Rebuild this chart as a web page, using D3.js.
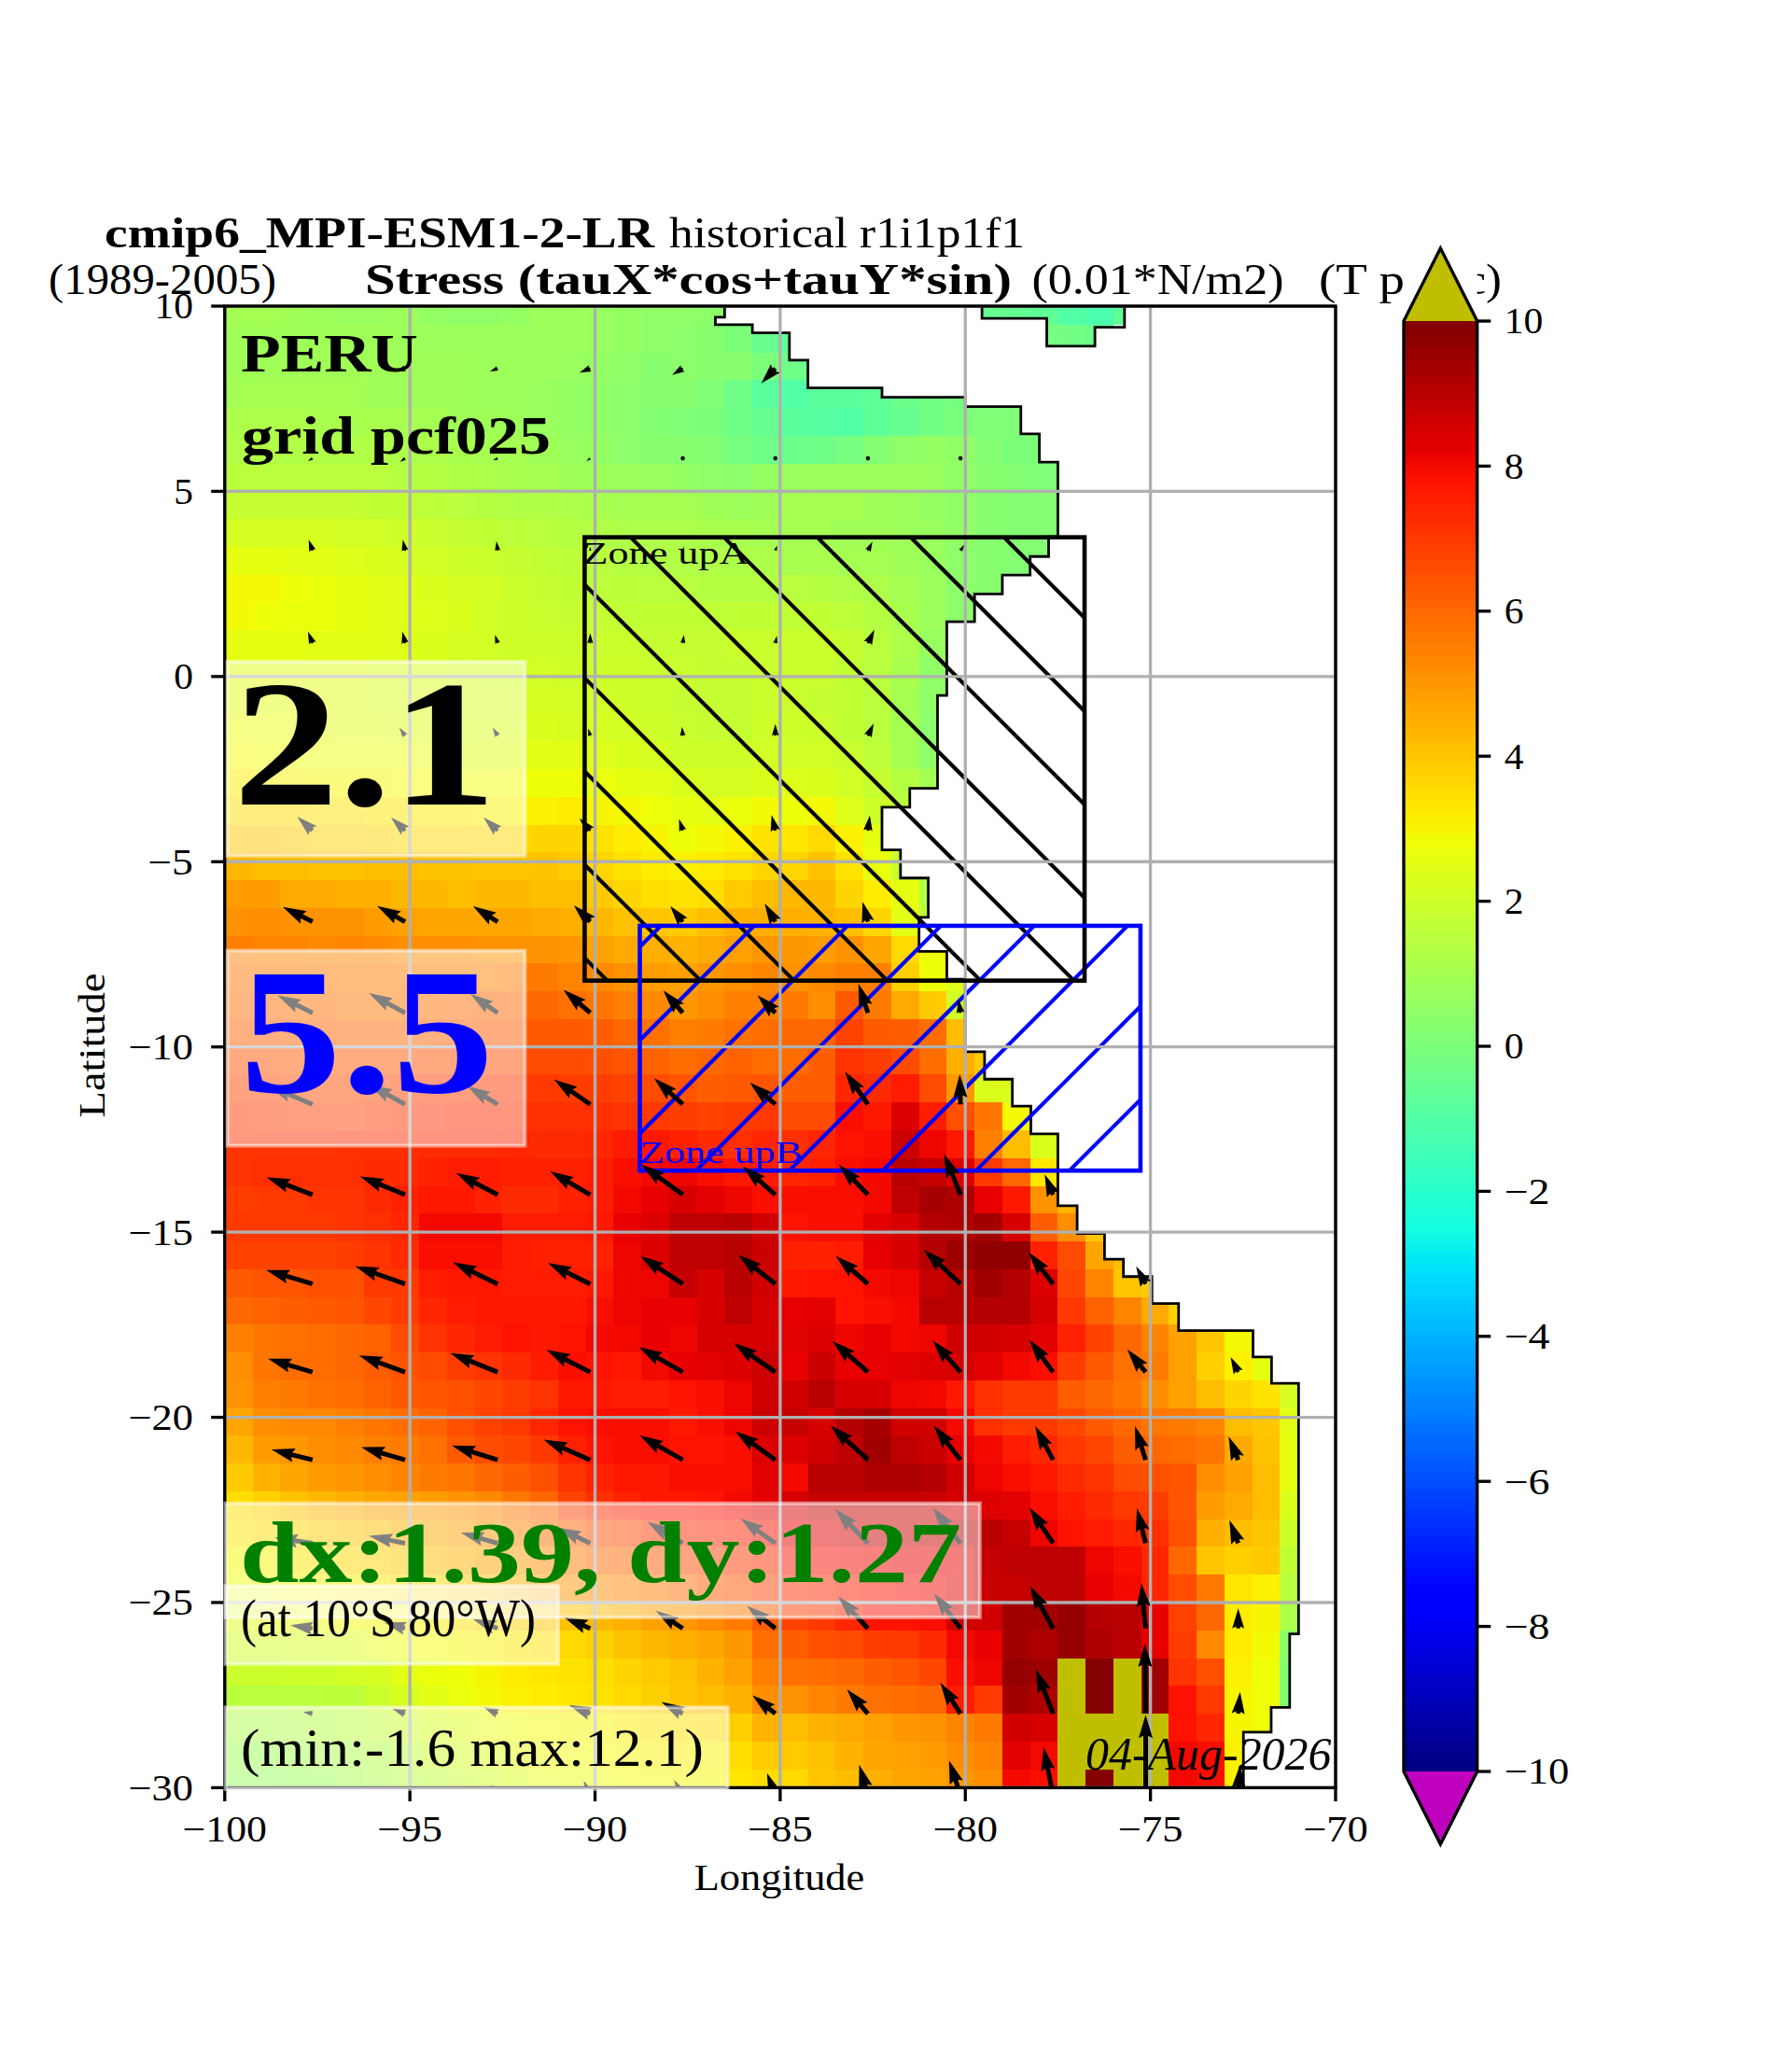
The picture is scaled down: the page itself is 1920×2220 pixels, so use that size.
<!DOCTYPE html>
<html>
<head>
<meta charset="utf-8">
<title>PERU stress</title>
<script src="https://cdn.jsdelivr.net/npm/d3@7"></script>
<style>
  body { margin: 0; background: #fff; }
  svg { display: block; }
  text { font-family: "Liberation Serif", serif; fill: #000; }
</style>
</head>
<body>
<div id="chart"></div>
<script>
// Alongshore wind stress values on a 0.75 degree mesh.
// One row per latitude band, first band on top, null = no data.
const _ = null;
const stressRows = [
  [1.0,1.0,0.9,0.8,0.7,0.7,0.8,0.6,0.5,0.5,0.6,0.8,0.8,0.7,0.6,0.5,0.5,0.4,0.2,-.2,_,_,_,_,_,_,_,-0.5,-0.6,-0.7,-1.0,-1.2,-0.7],
  [0.9,0.9,0.9,0.9,0.9,0.9,0.8,0.8,0.8,0.8,0.8,0.8,0.8,0.7,0.6,0.5,0.4,0.3,0.0,-0.5,-0.7,_,_,_,_,_,_,_,_,-0.1,-0.2,-0.4],
  [0.9,0.9,0.9,0.9,0.9,0.9,0.9,0.9,0.9,0.8,0.8,0.8,0.7,0.6,0.5,0.3,0.4,0.3,0.3,0.0,-0.3,-0.7,-0.5],
  [1.0,1.0,1.0,1.0,1.0,0.9,0.9,0.9,0.9,0.8,0.8,0.7,0.6,0.5,0.4,0.3,0.3,0.1,-0.3,-0.8,-1.0,-0.8,-0.8,-0.7,-0.4,-0.2,-0.1,0,0.1,0.1],
  [1.2,1.2,1.2,1.1,1.1,1.1,1.1,1.0,0.9,0.9,0.8,0.7,0.6,0.5,0.4,0.2,0.1,0.0,-0.3,-0.5,-0.8,-0.9,-1.0,-0.7,-0.5,-0.2,0.0,0.1,0.1,0.0,0.0],
  [1.3,1.3,1.3,1.3,1.3,1.3,1.2,1.2,1.1,1.0,1.0,0.9,0.7,0.6,0.4,0.3,0.3,0.2,-0.1,-0.3,-0.4,-0.3,-0.1,0.2,0.5,0.6,0.5,0.2,0.0,0.0,0.0],
  [1.5,1.5,1.5,1.5,1.5,1.5,1.4,1.4,1.3,1.2,1.1,1.0,0.9,0.8,0.8,0.7,0.6,0.5,0.4,0.6,0.7,0.8,0.8,0.8,0.8,0.7,0.5,0.3,0.2,0.1,0.1],
  [1.8,1.8,1.8,1.8,1.8,1.7,1.7,1.6,1.5,1.4,1.3,1.3,1.2,1.1,1.0,1.0,1.0,0.9,0.8,0.9,1.0,1.0,1.0,0.9,0.8,0.6,0.5,0.3,0.2,0.2,0.2],
  [2.2,2.2,2.2,2.2,2.1,2.1,2.0,1.9,1.8,1.7,1.6,1.5,1.4,1.3,1.2,1.2,1.2,1.1,1.1,1.0,1.0,1.0,0.9,0.9,0.8,0.7,0.5,0.3,0.2,0.2,0.2],
  [2.6,2.6,2.5,2.5,2.4,2.3,2.2,2.1,2.0,1.9,1.8,1.7,1.6,1.5,1.4,1.3,1.3,1.3,1.2,1.2,1.1,1.1,1.0,1.0,0.9,0.7,0.4,0.3,0.2,0.2],
  [2.9,2.9,2.8,2.7,2.6,2.5,2.4,2.3,2.2,2.1,1.9,1.8,1.7,1.6,1.6,1.5,1.5,1.4,1.4,1.4,1.5,1.4,1.3,1.2,1.0,0.8,0.4,0.3],
  [2.9,2.8,2.7,2.7,2.6,2.5,2.4,2.4,2.3,2.1,2.0,1.9,1.8,1.8,1.7,1.7,1.7,1.7,1.7,1.7,1.7,1.7,1.6,1.4,1.1,0.8,0.4],
  [2.6,2.6,2.6,2.5,2.5,2.5,2.4,2.3,2.2,2.1,2.0,2.0,1.9,1.9,1.9,1.8,1.8,1.8,1.9,1.9,1.9,1.9,1.8,1.5,1.2,0.7],
  [2.5,2.5,2.5,2.5,2.5,2.4,2.3,2.3,2.2,2.1,2.1,2.1,2.0,2.0,2.0,1.9,1.9,1.8,1.8,1.9,1.9,1.9,1.7,1.5,1.1,0.5],
  [2.5,2.5,2.5,2.5,2.5,2.4,2.4,2.3,2.2,2.2,2.2,2.2,2.1,2.1,2.0,1.9,1.8,1.8,1.8,1.9,1.9,1.8,1.7,1.5,1.0,0.5],
  [2.7,2.7,2.6,2.5,2.5,2.5,2.4,2.4,2.3,2.3,2.3,2.3,2.2,2.2,2.1,2.0,1.9,1.8,1.8,2.0,2.0,1.9,1.7,1.5,1.0,0.4],
  [2.9,2.8,2.8,2.7,2.7,2.7,2.6,2.6,2.5,2.5,2.5,2.5,2.5,2.4,2.3,2.2,2.0,2.0,2.0,2.1,2.1,2.1,1.9,1.6,1.0,0.5],
  [3.2,3.1,3.1,3.0,3.0,3.0,2.9,2.9,2.8,2.8,2.8,2.8,2.8,2.7,2.6,2.5,2.3,2.2,2.2,2.3,2.4,2.3,2.1,1.8,1.4,1.0],
  [3.5,3.5,3.5,3.4,3.4,3.3,3.3,3.2,3.2,3.1,3.1,3.1,3.2,3.0,2.9,2.8,2.6,2.5,2.7,2.9,2.8,2.9,2.4,2.0,1.5],
  [4.0,4.0,3.9,3.8,3.8,3.7,3.6,3.6,3.6,3.6,3.6,3.7,3.7,3.4,3.2,3.0,2.8,2.9,3.1,3.4,3.3,3.6,3.1,2.6,2.6],
  [4.3,4.2,4.2,4.1,4.1,4.2,4.2,4.1,4.1,4.0,4.0,4.1,3.9,3.7,3.4,3.2,3.1,3.2,3.4,3.7,3.7,4.1,3.4,2.7,1.9,1.3,1.3],
  [4.9,4.9,4.6,4.6,4.5,4.5,4.3,4.3,4.2,4.3,4.3,4.2,4.2,3.9,3.7,3.5,3.4,3.5,3.9,4.2,4.3,4.3,3.7,3.2,2.6,1.4,1.4],
  [5.1,5.2,5.1,5.1,5.1,4.9,4.8,4.7,4.7,4.7,4.7,4.6,4.5,4.3,4.1,4.0,3.9,4.2,4.5,4.5,4.5,4.4,4.2,3.7,2.5,1.7],
  [5.5,5.4,5.4,5.3,5.4,5.3,5.2,5.2,5.2,5.1,5.1,5.1,5.0,4.8,4.6,4.5,4.4,4.6,4.8,5.0,5.0,4.9,5.1,4.7,3.6,2.8,2.6],
  [5.7,5.7,5.7,5.6,5.6,5.6,5.6,5.5,5.5,5.5,5.6,5.6,5.4,5.3,5.1,4.9,4.8,5.0,5.2,5.4,5.1,5.3,5.5,5.5,3.8,2.8,2.4],
  [5.9,5.9,5.8,5.8,5.7,5.7,5.7,5.8,5.9,6.0,6.0,6.0,5.8,5.7,5.5,5.3,5.0,5.2,5.5,5.5,5.6,5.2,6.3,5.6,4.6,3.9,2.1],
  [6.1,6.2,6.1,6.1,6.0,6.0,6.0,6.1,6.2,6.3,6.3,6.3,6.3,6.2,6.0,5.8,5.5,5.6,5.8,5.9,6.0,6.0,6.8,6.3,6.2,5.9,4.2],
  [6.4,6.4,6.3,6.3,6.3,6.3,6.4,6.5,6.5,6.6,6.6,6.6,6.6,6.5,6.4,6.1,5.9,6.0,6.1,5.9,5.9,6.2,7.1,6.9,6.6,5.9,4.5,3.9],
  [6.7,6.7,6.6,6.6,6.6,6.7,6.8,6.9,6.9,7.0,7.0,7.0,6.9,6.9,6.8,6.6,6.4,6.2,6.3,6.4,6.2,6.2,7.4,7.3,7.6,6.6,5.0,2.3,2.3],
  [7.0,6.9,6.8,6.8,6.8,6.9,7.0,7.1,7.2,7.2,7.2,7.2,7.2,7.2,7.1,7.0,6.9,6.8,6.9,7.0,6.6,6.6,7.9,7.7,8.4,7.6,6.5,5.7,2.9,2.7],
  [7.1,7.1,7.1,7.1,7.2,7.2,7.2,7.3,7.3,7.3,7.4,7.3,7.3,7.4,7.6,7.7,7.5,7.3,7.2,7.4,7.2,7.4,7.8,7.9,8.7,8.1,7.7,5.5,4.2,2.3],
  [7.1,7.2,7.2,7.2,7.2,7.3,7.3,7.5,7.6,7.6,7.5,7.5,7.5,7.6,7.9,8.0,8.1,7.9,7.7,7.6,7.4,7.5,7.9,8.0,9.0,8.8,8.4,7.0,6.0,3.3],
  [6.9,7.0,7.0,7.1,7.1,7.3,7.5,7.7,7.7,7.5,7.3,7.3,7.5,7.6,8.0,8.2,8.5,8.3,8.1,7.9,7.9,7.9,7.9,8.0,8.9,9.3,9.2,8.2,7.7,5.1,4.4],
  [7.0,7.0,7.0,7.0,7.1,7.2,7.4,8.0,8.0,8.0,7.6,7.6,7.6,7.7,8.2,8.4,8.9,8.9,9.0,8.6,7.8,7.9,7.9,8.3,8.5,9.1,9.2,9.4,8.5,6.2,5.2,4.0],
  [6.8,6.8,6.8,6.8,6.9,7.1,7.3,7.9,7.9,7.9,7.6,7.5,7.5,7.5,8.1,8.4,8.9,8.9,9.0,8.7,7.5,7.5,7.6,8.2,8.5,9.1,9.5,9.7,9.7,7.5,6.6,4.7,4.2],
  [6.3,6.4,6.4,6.5,6.5,7.0,7.0,7.6,7.7,7.7,7.6,7.6,7.6,7.7,8.1,8.1,8.8,8.5,9.0,8.6,7.7,7.8,7.8,8.0,8.1,8.8,9.0,9.4,9.1,8.4,6.7,5.4,4.0,3.9],
  [6.0,6.1,6.2,6.3,6.4,6.7,6.9,7.4,7.6,7.7,7.7,7.7,7.7,7.9,8.1,8.2,8.2,8.5,8.9,8.5,8.2,8.3,7.8,7.9,8.0,9.0,9.0,9.1,9.1,8.5,7.0,6.1,5.4,4.6,3.8],
  [5.5,5.7,5.8,5.9,6.0,6.1,6.6,7.1,7.4,7.6,7.8,7.7,7.8,8.0,8.0,8.2,8.1,8.5,8.5,8.5,8.3,8.4,8.1,8.2,8.0,8.1,8.6,8.6,8.5,8.3,7.5,6.8,6.0,5.4,4.8,4.0,2.9],
  [5.2,5.7,5.9,5.9,6.0,6.2,6.4,6.6,6.9,7.1,7.3,7.6,7.9,7.8,7.7,8.0,8.2,8.3,8.4,8.7,8.2,8.7,8.2,8.2,8.3,8.4,8.5,8.3,8.0,7.9,6.9,6.3,5.8,5.6,4.8,3.8,3.1,2.6],
  [5.1,5.5,5.6,5.8,5.9,6.1,6.3,6.4,6.5,6.7,6.9,7.1,7.7,7.7,7.6,7.6,7.8,7.9,8.1,8.6,8.6,9.0,8.5,8.5,8.1,8.0,7.7,7.2,7.0,7.0,6.2,6.0,5.7,5.2,4.8,4.2,3.7,3.4,2.2],
  [4.7,5.2,5.3,5.3,5.5,5.7,5.9,6.1,6.5,6.8,7.0,7.4,7.8,7.9,7.9,7.9,7.7,7.9,8.1,8.7,8.8,8.5,9.1,9.3,8.6,8.6,8.0,7.2,7.0,7.0,6.7,6.3,6.0,5.7,5.6,5.4,4.2,4.0,2.5],
  [4.3,4.9,5.0,5.2,5.3,5.5,5.6,5.8,6.3,6.6,6.7,7.0,7.5,7.8,7.9,7.9,7.8,7.8,7.9,8.4,8.4,8.6,8.9,9.4,8.9,8.7,8.2,8.0,7.6,7.4,7.0,6.7,6.2,6.0,5.9,5.7,4.6,4.1,2.6],
  [3.9,4.4,4.7,4.9,5.0,5.2,5.4,5.6,5.7,6.0,6.2,6.5,7.1,7.5,7.7,7.7,7.9,7.9,7.9,8.3,8.0,9.0,9.0,9.2,9.2,9.1,8.6,8.1,7.9,7.7,7.3,7.1,6.6,6.5,6.4,5.2,4.8,4.2,2.6],
  [3.5,3.8,4.1,4.3,4.5,4.7,4.8,4.9,5.1,5.3,5.7,6.0,6.8,7.2,7.5,7.7,7.7,7.8,8.0,8.3,8.5,8.8,8.8,8.8,8.8,8.7,8.5,8.4,8.3,7.9,7.6,7.3,7.0,6.9,6.4,4.9,4.6,4.2,2.3],
  [3.3,3.5,3.7,3.9,4.0,4.2,4.4,4.6,4.8,5.1,5.4,5.8,6.1,6.5,6.7,7.0,7.3,7.4,7.5,7.8,8.2,8.3,8.5,8.7,8.7,8.8,8.9,9.0,8.8,8.1,7.8,7.6,7.4,7.2,6.5,4.5,4.2,4.0,2.0],
  [3.0,3.1,3.3,3.4,3.6,3.8,4.0,4.2,4.4,4.7,4.9,5.2,5.6,5.9,6.0,6.3,6.6,6.8,7.0,7.2,7.8,7.9,8.0,8.1,8.2,8.2,8.2,8.8,8.9,8.9,8.9,8.1,7.9,7.4,6.0,4.0,3.8,3.9,1.7],
  [2.7,2.8,3.0,3.1,3.2,3.3,3.5,3.7,3.9,4.1,4.4,4.7,5.0,5.2,5.4,5.6,5.9,6.3,6.5,6.8,7.2,7.4,7.6,7.8,7.9,8.0,8.3,8.7,8.8,8.9,8.9,8.2,8.0,7.4,6.6,5.6,3.3,3.1,1.5],
  [2.5,2.6,2.7,2.8,2.9,3.0,3.1,3.2,3.4,3.6,3.8,4.0,4.1,4.3,4.5,4.8,5.0,5.3,5.6,6.2,6.8,7.0,7.4,7.8,7.8,7.9,8.6,8.6,9.4,9.4,9.6,9.1,9.0,8.2,6.8,6.0,3.2,3.0,1.2],
  [2.1,2.1,2.2,2.3,2.4,2.6,2.8,2.9,3.0,3.1,3.3,3.4,3.6,3.8,4.1,4.3,4.5,4.7,5.0,5.9,6.2,6.5,6.6,6.9,7.0,7.3,8.0,8.2,9.4,9.2,9.6,9.2,9.0,8.2,6.9,5.3,3.2,2.9,0.4],
  [1.9,1.9,2.0,2.0,2.1,2.2,2.5,2.7,2.8,3.0,3.2,3.3,3.4,3.5,3.7,3.9,4.1,4.4,4.8,5.5,5.8,5.9,6.0,6.2,6.4,6.7,7.9,8.1,9.6,9.5,11,9.9,11,9.4,7.1,6.5,3.1,2.8,0.2],
  [1.5,1.5,1.5,1.6,1.6,1.9,2.2,2.5,2.7,2.9,3.1,3.2,3.3,3.4,3.6,3.8,4.0,4.2,4.4,5.2,5.1,5.4,5.6,5.8,5.9,6.0,7.6,7.0,9.4,9.2,11,9.9,11,9.4,7.8,7.0,3.0,2.8,0.2],
  [1.2,1.2,1.3,1.4,1.6,1.7,1.9,2.2,2.4,2.6,2.8,2.9,3.0,3.0,3.2,3.3,3.4,3.5,3.8,4.4,4.2,4.4,4.6,4.8,5.0,5.1,5.4,5.6,8.6,8.5,11,11,11,11,7.8,7.4,3.0,2.8],
  [0.9,0.9,1.0,1.1,1.2,1.4,1.6,1.9,2.1,2.3,2.5,2.7,2.8,2.9,3.0,3.1,3.1,3.1,3.5,3.9,3.9,4.1,4.4,4.7,4.8,4.9,5.2,5.4,8.3,8.0,11,11,11,11,8.0,7.9,3.1],
  [0.7,0.7,0.8,0.9,1.1,1.3,1.5,1.7,1.9,2.1,2.4,2.6,2.7,2.8,2.9,2.9,3.0,3.0,3.3,3.5,3.6,4.0,4.2,4.5,4.7,4.8,5.0,5.2,8.0,7.9,11,9.9,11,11,8.0,7.9,3.1]
];

// Coast outline going south, then the small patch in the Caribbean corner
const coastLon = [-86.5,-86.5,-86.75,-86.75,-85.75,-85.75,-84.75,-84.75,-84.25,-84.25,-82.25,-82.25,-80,-80,-78.5,-78.5,-78,-78,-77.5,-77.5,-77.75,-77.75,-78.25,-78.25,-79,-79,-79.75,-79.75,-80.5,-80.5,-80.75,-80.75,-81.5,-81.5,-82.25,-82.25,-81.75,-81.75,-81,-81,-81.25,-81.25,-80.5,-80.5,-80,-80,-79.48,-79.48,-78.73,-78.73,-78.23,-78.23,-77.5,-77.5,-76.98,-76.98,-76.24,-76.24,-75.73,-75.73,-74.96,-74.96,-74.24,-74.24,-72.23,-72.23,-71.73,-71.73,-71,-71,-71.24,-71.24,-71.74,-71.74,-72.49,-72.49];
const coastLat = [10,9.7,9.7,9.5,9.5,9.28,9.28,8.54,8.54,7.79,7.79,7.54,7.54,7.29,7.29,6.55,6.55,5.79,5.79,3.77,3.77,3.24,3.24,2.74,2.74,2.23,2.23,1.48,1.48,-0.51,-0.51,-3.02,-3.02,-3.53,-3.53,-4.68,-4.68,-5.44,-5.44,-6.5,-6.5,-7.42,-7.42,-8.17,-8.17,-10.13,-10.13,-10.87,-10.87,-11.6,-11.6,-12.35,-12.35,-14.29,-14.29,-15.04,-15.04,-15.73,-15.73,-16.2,-16.2,-16.93,-16.93,-17.66,-17.66,-18.37,-18.37,-19.08,-19.08,-25.85,-25.85,-27.83,-27.83,-28.5,-28.5,-30];
const patchLon = [-79.55,-75.7,-75.7,-76.5,-76.5,-77.8,-77.8,-79.55,-79.55];
const patchLat = [10,10,9.43,9.43,8.92,8.92,9.67,9.67,10];

// Stress arrows: tail grid and the arrow components
const quiverLon = [-97.63,-95.13,-92.63,-90.13,-87.63,-85.13,-82.63,-80.13,-77.63,-75.13,-72.63];
const quiverLat = [8.32,5.89,3.4,0.9,-1.6,-4.16,-6.62,-9.08,-11.55,-13.99,-16.4,-18.78,-21.15,-23.4,-25.7,-28,-30.2];
const quiverU = [
  [-25,-25,-20,-28,-28,-37],
  [-12,-13,-12,-10,0,0,0,0],
  [-10,-6,-3,0,3,5,12,10],
  [-12,-7,-7,0,3,4,17],
  [-15,-15,-13,-5,-2,0,15],
  [-40,-37,-37,-28,-10,-10,5],
  [-78,-73,-65,-43,-33,-28,-14],
  [-92,-95,-72,-70,-51,-47,-25,-5],
  [-115,-95,-80,-95,-75,-67,-60,-2],
  [-120,-118,-109,-105,-108,-85,-76,-43,-22],
  [-122,-131,-117,-111,-111,-97,-84,-96,-64,-25],
  [-117,-121,-124,-115,-115,-109,-93,-73,-62,-48,-20],
  [-108,-115,-120,-122,-113,-105,-98,-70,-47,-28,-25],
  [-100,-95,-97,-85,-93,-92,-86,-73,-62,-23,-23],
  [-58,-55,-65,-68,-71,-75,-78,-70,-60,-11,0],
  [-25,-33,-37,-55,-56,-60,-55,-53,-45,-2,5],
  [-10,-18,-17,-17,-23,-22,-23,-30,-25,0,5]
];
const quiverV = [
  [-3,-10,-9,-13,-20,-45],
  [-8,-10,-6,-8,0,0,0,0],
  [33,33,28,12,12,15,27,17],
  [35,35,25,30,25,22,40],
  [25,25,25,22,27,35,37],
  [42,40,40,37,35,47,45],
  [44,47,47,49,47,55,60],
  [52,59,57,69,67,53,87,40],
  [55,60,55,75,78,65,98,90],
  [52,55,65,70,90,85,90,122,61],
  [42,53,65,63,84,87,84,103,95,53],
  [40,50,57,67,75,87,93,95,97,68,45],
  [31,38,43,61,73,86,103,103,101,101,70],
  [17,22,32,47,64,75,102,107,107,105,69],
  [10,18,28,33,53,68,96,106,127,135,60],
  [5,15,20,25,35,55,73,93,133,210,65],
  [28,28,31,43,46,66,91,104,144,241,91]
];

// Zones
const zoneA = { lon: [-90.28, -76.78], lat: [-8.21, 3.76], name: "Zone upA" };
const zoneB = { lon: [-88.79, -75.27], lat: [-13.34, -6.73], name: "Zone upB" };

// Ticks
const lonTicks = [-100, -95, -90, -85, -80, -75, -70];
const latTicks = [-30, -25, -20, -15, -10, -5, 0, 5, 10];
const barTicks = [-10, -8, -6, -4, -2, 0, 2, 4, 6, 8, 10];

// jet colormap anchors
const jetR = [[0, 0.35, 0.66, 0.89, 1], [0, 0, 1, 1, 0.5]];
const jetG = [[0, 0.125, 0.375, 0.64, 0.91, 1], [0, 0, 1, 1, 0, 0]];
const jetB = [[0, 0.11, 0.34, 0.65, 1], [0.5, 1, 1, 0, 0]];

const width = 1920, height = 2220;
const plot = { left: 240.8, right: 1431, top: 328, bottom: 1915.4 };
const bar = { left: 1504, right: 1582.7, top: 344, bottom: 1898, tipTop: 266, tipBottom: 1976 };
const spine = 3.33, tickLen = 14.6;

const x = d3.scaleLinear().domain([-100, -70]).range([plot.left, plot.right]);
const y = d3.scaleLinear().domain([-30, 10]).range([plot.bottom, plot.top]);
const barY = d3.scaleLinear().domain([-10, 10]).range([bar.bottom, bar.top]);

const chanR = d3.scaleLinear().domain(jetR[0]).range(jetR[1]);
const chanG = d3.scaleLinear().domain(jetG[0]).range(jetG[1]);
const chanB = d3.scaleLinear().domain(jetB[0]).range(jetB[1]);
const norm = d3.scaleLinear().domain([-10, 10]).range([0, 1]);

function color(v) {
  if (v > 10) return "#bfbf00";
  if (v < -10) return "#bf00bf";
  const t = norm(v);
  return d3.rgb(chanR(t) * 255, chanG(t) * 255, chanB(t) * 255).formatHex();
}

const svg = d3.select("#chart").append("svg").attr("width", width).attr("height", height);

// real minus, sized to what the tick labels measure
const fmtTick = (d) => (d < 0 ? "\u2212" + Math.abs(d) : String(d));
const tickWidth = (d) => (d < 0 ? 28 : 0) + String(Math.abs(d)).length * 20.8;

function label(parent, str, px, py, size, w, opt = {}) {
  const t = parent.append("text")
    .attr("x", px).attr("y", py)
    .attr("font-size", size)
    .attr("text-anchor", opt.anchor || "start")
    .text(str);
  if (w) t.attr("textLength", w).attr("lengthAdjust", "spacingAndGlyphs");
  if (opt.bold) t.attr("font-weight", "bold");
  if (opt.italic) t.attr("font-style", "italic");
  if (opt.color) t.style("fill", opt.color);
  return t;
}

const defs = svg.append("defs");
defs.append("clipPath").attr("id", "axesClip").append("rect")
  .attr("x", plot.left).attr("y", plot.top)
  .attr("width", plot.right - plot.left).attr("height", plot.bottom - plot.top);

const line = d3.line().x((d) => x(d[0])).y((d) => y(d[1]));
const coast = coastLon.map((d, i) => [d, coastLat[i]]);
const patch = patchLon.map((d, i) => [d, patchLat[i]]);
const ocean = [[-100, 10]].concat(coast, [[-72.49, -30], [-100, -30], [-100, 10]]);

defs.append("clipPath").attr("id", "oceanClip").selectAll("path")
  .data([ocean, patch]).enter().append("path").attr("d", line);

// title, under the colorbar axes which hides part of the last bit
label(svg, "cmip6_MPI-ESM1-2-LR", 112, 265, 47, 589, { bold: true });
label(svg, "historical r1i1p1f1", 717, 265, 47, 381);
label(svg, "(1989-2005)", 52, 315, 47, 244);
label(svg, "Stress (tauX*cos+tauY*sin)", 391, 315, 47, 693, { bold: true });
label(svg, "(0.01*N/m2)", 1105.5, 315, 47, 270);
label(svg, "(T p", 1413, 315, 47, 92);
label(svg, "ac)", 1609, 315, 47, 62, { anchor: "end" });

// mesh
const cellStep = 0.75, firstEdge = 10.25;
const cells = [];
stressRows.forEach((row, j) => {
  row.forEach((v, i) => {
    if (v !== null) cells.push({ i, j, v });
  });
});
svg.append("g").attr("clip-path", "url(#axesClip)")
  .append("g").attr("clip-path", "url(#oceanClip)")
  .selectAll("rect").data(cells).enter().append("rect")
  .attr("x", (d) => x(-100 + d.i * cellStep))
  .attr("y", (d) => y(firstEdge - d.j * cellStep))
  .attr("width", x(cellStep) - x(0) + 0.5)
  .attr("height", y(0) - y(cellStep) + 0.5)
  .attr("shape-rendering", "crispEdges")
  .attr("fill", (d) => color(d.v));

// coast contour
const gClip = svg.append("g").attr("clip-path", "url(#axesClip)");
gClip.append("path").attr("d", line(coast)).attr("fill", "none").attr("stroke", "#000").attr("stroke-width", 2.8);
gClip.append("path").attr("d", line(patch)).attr("fill", "none").attr("stroke", "#000").attr("stroke-width", 2.8);

// hatching, 100 px period like the original tile
function hatch(zone, col, id, sign) {
  const x0 = x(zone.lon[0]), x1 = x(zone.lon[1]), y0 = y(zone.lat[1]), y1 = y(zone.lat[0]);
  defs.append("clipPath").attr("id", id).append("rect")
    .attr("x", x0).attr("y", y0).attr("width", x1 - x0).attr("height", y1 - y0);
  const g = svg.append("g").attr("clip-path", `url(#${id})`);
  // sign -1: "\" lines y = x + k, sign 1: "/" lines y = k - x
  d3.range(-2000, 5000, 100).forEach((k) => {
    g.append("line")
      .attr("x1", x0).attr("x2", x1)
      .attr("y1", sign < 0 ? x0 + k : k - x0)
      .attr("y2", sign < 0 ? x1 + k : k - x1)
      .attr("stroke", col).attr("stroke-width", 4.1);
  });
}
hatch(zoneA, "#000", "zoneAClip", -1);
hatch(zoneB, "#0000ff", "zoneBClip", 1);

// grid
const grid = svg.append("g").attr("stroke", "#b0b0b0").attr("stroke-width", spine);
lonTicks.forEach((d) => grid.append("line").attr("x1", x(d)).attr("x2", x(d)).attr("y1", plot.top).attr("y2", plot.bottom));
latTicks.forEach((d) => grid.append("line").attr("y1", y(d)).attr("y2", y(d)).attr("x1", plot.left).attr("x2", plot.right));

// zone outlines and names
[[zoneA, "#000"], [zoneB, "#0000ff"]].forEach(([z, col]) => {
  svg.append("rect")
    .attr("x", x(z.lon[0])).attr("y", y(z.lat[1]))
    .attr("width", x(z.lon[1]) - x(z.lon[0])).attr("height", y(z.lat[0]) - y(z.lat[1]))
    .attr("fill", "none").attr("stroke", col).attr("stroke-width", 4.6);
});

// quiver with matplotlib arrow proportions
const shaft = 5, headLen = 5 * shaft, headAxis = 4.5 * shaft, headW = 3 * shaft;
const unitX = 1 / 2.45, unitY = 1 / 2.8;
const arrows = [];
quiverU.forEach((row, j) => {
  row.forEach((u, i) => {
    arrows.push({ x0: x(quiverLon[i]), y0: y(quiverLat[j]), dx: u * unitX, dy: -quiverV[j][i] * unitY });
  });
});
const gArrows = svg.append("g").attr("clip-path", "url(#axesClip)");
arrows.forEach((a) => {
  const len = Math.hypot(a.dx, a.dy);
  if (len < 1) {
    gArrows.append("circle").attr("cx", a.x0).attr("cy", a.y0).attr("r", shaft / 2.2).attr("fill", "#000");
    return;
  }
  const s = Math.min(1, len / headLen);
  const sw = shaft * s / 2, hl = headLen * s, ha = headAxis * s, hw = headW * s / 2;
  const pts = [[0, sw], [len - ha, sw], [len - hl, hw], [len, 0], [len - hl, -hw], [len - ha, -sw], [0, -sw]];
  const ang = Math.atan2(a.dy, a.dx) * 180 / Math.PI;
  gArrows.append("polygon")
    .attr("points", pts.map((p) => p.join(",")).join(" "))
    .attr("transform", `translate(${a.x0},${a.y0}) rotate(${ang})`)
    .attr("fill", "#000");
});

label(svg, zoneA.name, 624.5, 603.6, 33, 178);
label(svg, zoneB.name, 685, 1246.4, 33, 175, { color: "#0000ff" });

// spines and ticks
svg.append("rect")
  .attr("x", plot.left).attr("y", plot.top)
  .attr("width", plot.right - plot.left).attr("height", plot.bottom - plot.top)
  .attr("fill", "none").attr("stroke", "#000").attr("stroke-width", spine);

const xAxisG = svg.append("g");
lonTicks.forEach((d) => {
  xAxisG.append("line").attr("x1", x(d)).attr("x2", x(d)).attr("y1", plot.bottom).attr("y2", plot.bottom + tickLen)
    .attr("stroke", "#000").attr("stroke-width", spine);
  label(xAxisG, fmtTick(d), x(d), 1973, 40, tickWidth(d), { anchor: "middle" });
});
const yAxisG = svg.append("g");
latTicks.forEach((d) => {
  yAxisG.append("line").attr("x1", plot.left - tickLen).attr("x2", plot.left).attr("y1", y(d)).attr("y2", y(d))
    .attr("stroke", "#000").attr("stroke-width", spine);
  label(yAxisG, fmtTick(d), 207, y(d) + 13.4, 40, tickWidth(d), { anchor: "end" });
});
label(svg, "Longitude", 835, 2025, 40, 182.5, { anchor: "middle" });
label(svg, "Latitude", 0, 0, 40, 155, { anchor: "middle" })
  .attr("transform", "translate(112,1120) rotate(-90)");

// text boxes go over everything
function box(x0, x1, y0, y1) {
  svg.append("rect").attr("x", x0).attr("y", y0).attr("width", x1 - x0).attr("height", y1 - y0)
    .attr("fill", "#fff").attr("fill-opacity", 0.5)
    .attr("stroke", "#fff").attr("stroke-opacity", 0.5).attr("stroke-width", 4);
}
box(243.7, 562.4, 709, 916.8);
box(243.7, 562.4, 1018.6, 1227.5);
box(241.6, 1049.8, 1610.7, 1732.9);
box(241.6, 598, 1699.3, 1782.9);
box(241.6, 779.6, 1829.3, 1917);

label(svg, "PERU", 258, 398, 56, 190, { bold: true });
label(svg, "grid pcf025", 259, 485.7, 56, 331, { bold: true });
label(svg, "2.1", 250, 862, 192, 282, { bold: true });
label(svg, "5.5", 257, 1170, 192, 272, { bold: true, color: "#0000ff" });
label(svg, "dx:1.39, dy:1.27", 257, 1694.6, 94, 773, { bold: true, color: "#008000" });
label(svg, "(at 10\u00b0S 80\u00b0W)", 258, 1752.9, 56, 316);
label(svg, "(min:-1.6 max:12.1)", 258, 1892, 58, 496);
label(svg, "04-Aug-2026", 1163, 1896.4, 50, 263.5, { italic: true });

// colorbar: white axes first, then the levels and the two end triangles
const barMid = (bar.left + bar.right) / 2;
svg.append("rect").attr("x", bar.left).attr("y", bar.tipTop)
  .attr("width", bar.right - bar.left).attr("height", bar.tipBottom - bar.tipTop).attr("fill", "#fff");

const levels = d3.range(256);
const levelScale = d3.scaleLinear().domain([0, 256]).range([-10, 10]);
svg.append("g").selectAll("rect").data(levels).enter().append("rect")
  .attr("x", bar.left).attr("width", bar.right - bar.left)
  .attr("y", (d) => barY(levelScale(d + 1)))
  .attr("height", (d) => barY(levelScale(d)) - barY(levelScale(d + 1)) + 0.6)
  .attr("shape-rendering", "crispEdges")
  .attr("fill", (d) => color(levelScale(d + 0.5)));

svg.append("polygon").attr("fill", color(11))
  .attr("points", `${bar.left},${bar.top} ${barMid},${bar.tipTop} ${bar.right},${bar.top}`);
svg.append("polygon").attr("fill", color(-11))
  .attr("points", `${bar.left},${bar.bottom} ${barMid},${bar.tipBottom} ${bar.right},${bar.bottom}`);
svg.append("polygon").attr("fill", "none").attr("stroke", "#000").attr("stroke-width", spine)
  .attr("points", `${bar.left},${bar.top} ${barMid},${bar.tipTop} ${bar.right},${bar.top} ${bar.right},${bar.bottom} ${barMid},${bar.tipBottom} ${bar.left},${bar.bottom}`);

barTicks.forEach((d) => {
  svg.append("line").attr("x1", bar.right).attr("x2", bar.right + tickLen).attr("y1", barY(d)).attr("y2", barY(d))
    .attr("stroke", "#000").attr("stroke-width", spine);
  label(svg, fmtTick(d), 1611.7, barY(d) + 13.4, 40, tickWidth(d));
});
</script>
</body>
</html>
